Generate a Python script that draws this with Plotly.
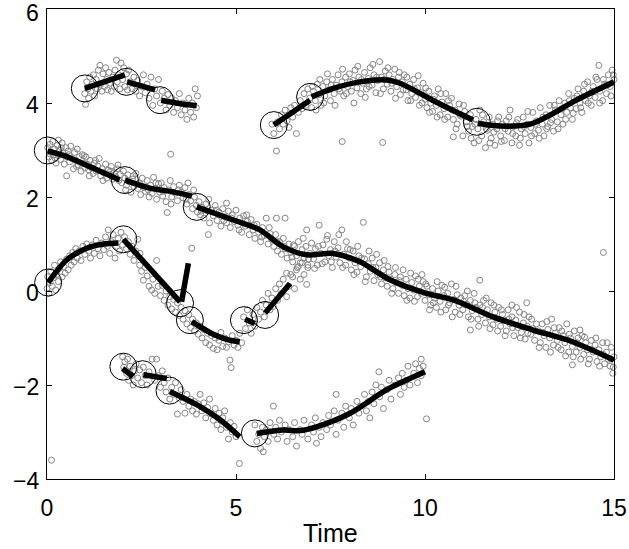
import plotly.graph_objects as go

cluster_a = [(1.0,4.2),(1.02,3.97),(1.05,4.45),(1.08,4.3),(1.1,4.1),(1.13,4.55),(1.16,4.25),(1.2,4.4),(1.23,4.6),(1.26,4.15),(1.3,4.5),(1.33,4.3),(1.36,4.7),(1.4,4.8),(1.42,4.4),(1.45,4.25),(1.48,4.62),(1.52,4.35),(1.55,4.75),(1.58,4.5),(1.6,4.28),(1.64,4.65),(1.68,4.42),(1.7,4.25),(1.74,4.55),(1.78,4.35),(1.8,4.7),(1.84,4.91),(1.86,4.45),(1.9,4.6),(1.93,4.3),(1.96,4.85),(2.0,4.5),(2.03,4.75),(2.06,4.35),(2.1,4.62),(2.13,4.28),(2.16,4.7),(2.2,4.45),(2.25,4.3),(2.3,4.55),(2.35,4.25),(2.4,4.48),(2.45,4.15),(2.5,4.35),(2.55,4.6),(2.6,4.22),(2.65,4.4),(2.7,4.1),(2.75,4.55),(2.8,3.95),(2.85,4.3),(2.9,4.15),(2.95,4.5),(3.0,4.0),(3.05,4.25),(3.1,4.1),(3.15,3.85),(3.2,4.18),(3.25,3.95),(3.27,2.91),(3.3,4.1),(3.35,3.8),(3.4,4.05),(3.45,3.9),(3.5,4.2),(3.55,3.75),(3.6,4.0),(3.65,3.85),(3.7,3.65),(3.75,4.1),(3.8,3.8),(3.85,4.0),(3.88,3.7),(3.92,4.3),(3.95,3.9),(3.98,4.15)]

cluster_b = [(5.95,3.55),(6.0,3.35),(6.07,2.98),(6.1,3.6),(6.15,3.45),(6.2,3.75),(6.25,3.55),(6.3,3.85),(6.35,3.62),(6.4,3.48),(6.45,3.9),(6.5,3.7),(6.55,3.95),(6.6,3.35),(6.65,3.8),(6.7,4.05),(6.75,3.88),(6.8,4.2),(6.85,3.95),(6.9,4.3),(6.95,4.1),(7.0,3.9),(7.05,4.25),(7.1,4.05),(7.15,4.4),(7.2,4.18),(7.25,3.95),(7.3,4.35),(7.35,4.15),(7.4,4.45),(7.45,4.28),(7.5,4.05),(7.55,4.5),(7.6,4.2),(7.65,4.38),(7.7,4.6),(7.75,4.25),(7.8,4.45),(7.81,3.18),(7.85,4.15),(7.9,4.55),(7.95,4.35),(8.0,4.62),(8.05,4.25),(8.1,4.48),(8.15,4.7),(8.2,4.32),(8.25,4.55),(8.3,4.2),(8.35,4.42),(8.4,4.65),(8.45,4.3),(8.5,4.52),(8.55,4.75),(8.6,4.38),(8.65,4.6),(8.7,4.22),(8.75,4.48),(8.8,4.88),(8.85,4.55),(8.88,3.16),(8.9,4.3),(8.95,4.68),(9.0,4.4),(9.05,4.6),(9.1,4.25),(9.15,4.5),(9.2,4.72),(9.25,4.35),(9.3,4.55),(9.35,4.18),(9.4,4.45),(9.45,4.6),(9.5,4.28),(9.55,4.05),(9.6,4.4),(9.65,4.2),(9.7,4.5),(9.75,4.12),(9.8,4.32),(9.85,3.95),(9.9,4.22),(9.95,4.42),(10.0,4.08),(10.05,3.9),(10.1,4.25),(10.15,4.0),(10.2,3.82),(10.25,4.15),(10.3,3.95),(10.35,4.3),(10.4,3.75),(10.45,4.02),(10.5,3.88),(10.55,4.2),(10.6,3.7),(10.65,3.95),(10.7,4.1),(10.75,3.65),(10.75,3.28),(10.8,3.85),(10.85,3.55),(10.9,3.98),(10.95,3.72),(11.0,3.3),(11.05,3.82),(11.1,3.6),(11.15,3.4),(11.2,3.75),(11.25,3.5),(11.3,3.15),(11.35,3.65),(11.4,3.45),(11.45,3.85),(11.5,3.3),(11.55,3.6),(11.6,3.05),(11.65,3.42),(11.7,3.7),(11.75,3.25),(11.8,3.55),(11.85,3.1),(11.9,3.45),(11.95,3.7),(12.0,3.3),(12.05,3.55),(12.1,3.2),(12.15,3.62),(12.2,3.4),(12.25,3.85),(12.3,3.15),(12.35,3.5),(12.4,3.3),(12.45,3.65),(12.5,3.1),(12.55,3.45),(12.6,3.7),(12.65,3.35),(12.7,3.55),(12.75,3.15),(12.8,3.48),(12.85,3.8),(12.9,3.35),(12.95,3.62),(13.0,3.42),(13.05,3.9),(13.1,3.55),(13.15,3.3),(13.2,3.75),(13.25,3.5),(13.3,3.95),(13.35,3.65),(13.4,3.4),(13.45,3.85),(13.5,3.6),(13.55,4.05),(13.6,3.75),(13.65,3.55),(13.7,4.0),(13.75,3.8),(13.8,4.2),(13.85,3.9),(13.9,3.65),(13.95,4.1),(14.0,3.88),(14.05,4.3),(14.1,4.0),(14.15,3.8),(14.2,4.25),(14.25,4.05),(14.3,4.45),(14.35,4.15),(14.4,3.95),(14.45,4.35),(14.5,4.12),(14.55,4.5),(14.6,4.8),(14.62,4.25),(14.7,4.05),(14.75,4.4),(14.8,4.2),(14.85,4.6),(14.9,4.35),(14.95,4.7),(15.0,4.5)]

cluster_b_more = [(7.02,4.35),(7.12,3.85),(7.22,4.5),(7.32,4.0),(7.42,4.62),(7.52,4.38),(7.62,3.95),(7.72,4.3),(7.82,4.72),(7.92,4.2),(8.02,4.45),(8.12,4.0),(8.22,4.78),(8.32,4.5),(8.42,4.12),(8.52,4.35),(8.62,4.82),(8.72,4.55),(8.82,4.2),(8.92,4.5),(9.02,4.75),(9.12,4.42),(9.22,4.1),(9.32,4.65),(9.42,4.28),(9.52,4.55),(9.62,4.05),(9.72,4.3),(9.82,4.58),(9.92,4.0),(10.02,4.32),(10.12,3.8),(10.22,4.08),(10.32,3.7),(10.42,4.2),(10.52,3.65),(10.62,4.05),(10.72,3.85),(10.82,3.45),(10.92,3.75),(11.02,3.95),(11.12,3.5),(11.22,3.25),(11.32,3.55),(11.42,3.2),(11.52,3.75),(11.62,3.45),(11.72,3.15),(11.82,3.38),(11.92,3.62),(12.02,3.18),(12.12,3.45),(12.22,3.7),(12.32,3.35),(12.42,3.58),(12.52,3.25),(12.62,3.5),(12.72,3.82),(12.82,3.3),(12.92,3.55),(13.02,3.25),(13.12,3.7),(13.22,3.45),(13.32,3.58),(13.42,3.95),(13.52,3.45),(13.62,3.88),(13.72,3.65),(13.82,4.05),(13.92,3.78),(14.02,4.15),(14.12,3.9),(14.22,4.4),(14.32,4.0),(14.42,4.25),(14.52,4.55),(14.62,4.0),(14.72,4.5),(14.82,4.38),(14.92,4.15),(14.98,4.6)]

cluster_c = [(0.02,3.05),(0.05,2.85),(0.08,3.12),(0.1,2.95),(0.13,2.78),(0.15,3.18),(0.18,2.9),(0.2,3.02),(0.24,2.72),(0.27,3.1),(0.3,3.21),(0.3,2.88),(0.33,3.0),(0.36,2.8),(0.4,3.15),(0.43,2.93),(0.46,2.7),(0.5,3.05),(0.52,2.45),(0.53,2.85),(0.56,2.98),(0.6,2.75),(0.63,3.08),(0.66,2.82),(0.7,2.6),(0.73,2.95),(0.76,2.78),(0.8,3.02),(0.83,2.68),(0.86,2.86),(0.9,2.55),(0.93,2.9),(0.96,2.72),(1.0,2.62),(1.03,2.85),(1.07,2.7),(1.1,2.58),(1.14,2.78),(1.18,2.62),(1.22,2.5),(1.25,2.72),(1.3,2.55),(1.34,2.66),(1.38,2.82),(1.42,2.45),(1.46,2.6),(1.5,2.52),(1.55,2.7),(1.58,2.4),(1.62,2.57),(1.66,2.48),(1.7,2.65),(1.74,2.38),(1.78,2.52),(1.82,2.43),(1.86,2.6),(1.9,2.35),(1.94,2.48),(1.98,2.3),(2.02,2.55),(2.06,2.4),(2.1,2.25),(2.14,2.47),(2.18,2.32),(2.22,2.1),(2.26,2.38),(2.3,2.22),(2.35,2.5),(2.4,2.18),(2.44,2.3),(2.48,2.05),(2.52,2.4),(2.56,2.2),(2.6,2.12),(2.65,2.35),(2.7,2.0),(2.74,2.25),(2.78,2.08),(2.82,2.42),(2.86,2.18),(2.9,1.95),(2.95,2.28),(2.98,2.1),(3.02,2.3),(3.06,2.02),(3.1,2.2),(3.15,1.9),(3.18,1.67),(3.22,2.15),(3.26,2.35),(3.3,2.0),(3.35,2.22),(3.4,2.08),(3.45,1.92),(3.5,2.25),(3.55,2.1),(3.6,1.98),(3.65,2.2),(3.7,1.85),(3.73,2.3),(3.75,2.05),(3.8,1.92),(3.85,1.75),(3.9,2.0),(3.95,1.82),(3.98,1.68),(4.02,1.9),(4.06,1.62),(4.1,1.78),(4.15,1.55),(4.2,1.85),(4.25,1.7),(4.27,1.2),(4.3,1.45),(4.35,1.72),(4.4,1.6),(4.45,1.82),(4.5,1.5),(4.55,1.68),(4.6,1.38),(4.65,1.75),(4.7,1.58),(4.75,1.87),(4.75,1.45),(4.8,1.7),(4.85,1.35),(4.9,1.62),(4.95,1.48),(5.0,1.72),(5.05,1.4),(5.1,1.55),(5.15,1.25),(5.2,1.6),(5.25,1.38),(5.3,1.48),(5.35,1.2),(5.4,1.52),(5.45,1.3),(5.5,1.12),(5.55,1.42),(5.6,1.25),(5.65,1.05),(5.7,1.35),(5.75,1.18),(5.8,1.55),(5.85,1.0),(5.9,1.22),(5.95,1.1),(6.0,0.95),(6.05,1.2),(6.07,1.55),(6.1,0.85),(6.15,1.05),(6.2,0.78),(6.25,1.12),(6.3,1.55),(6.3,0.9),(6.35,0.7),(6.4,1.0),(6.45,0.82),(6.5,0.62),(6.55,0.95),(6.6,0.75),(6.65,1.05),(6.7,0.6),(6.75,0.88),(6.8,0.7),(6.85,0.95),(6.87,1.3),(6.9,0.55),(6.95,0.8),(7.0,1.02),(7.05,0.68),(7.1,0.9),(7.15,0.55),(7.2,1.4),(7.25,0.8),(7.3,0.98),(7.35,0.62),(7.4,1.1),(7.45,0.75),(7.5,0.88),(7.55,0.5),(7.6,1.05),(7.65,0.72),(7.7,0.92),(7.75,0.6),(7.8,1.3),(7.85,0.78),(7.9,0.55),(7.95,0.9),(8.0,0.7),(8.05,0.45),(8.1,0.85),(8.15,0.6),(8.2,0.4),(8.25,0.75),(8.3,0.52),(8.37,1.46),(8.4,0.68),(8.45,0.3),(8.5,0.58),(8.55,0.42),(8.6,0.7),(8.65,0.22),(8.7,0.5),(8.75,0.35),(8.8,0.6),(8.85,0.15),(8.9,0.45),(8.95,0.28),(9.0,0.1),(9.05,0.4),(9.1,0.25),(9.15,0.05),(9.2,0.35),(9.25,0.18),(9.3,-0.05),(9.35,0.3),(9.4,0.12),(9.45,-0.1),(9.5,0.25),(9.55,0.05),(9.6,-0.15),(9.65,0.18),(9.7,0.02),(9.75,0.32),(9.8,-0.12),(9.85,0.1),(9.9,-0.05),(9.95,0.2),(10.0,-0.2),(10.05,0.1),(10.1,-0.08),(10.15,-0.3),(10.2,0.05),(10.25,-0.15),(10.3,-0.35),(10.35,0.0),(10.4,-0.22),(10.45,0.12),(10.5,-0.1),(10.55,-0.4),(10.6,-0.05),(10.65,-0.25),(10.7,0.15),(10.75,-0.18),(10.8,-0.45),(10.85,-0.08),(10.9,-0.3),(10.95,-0.15),(11.0,-0.4),(11.05,-0.1),(11.1,-0.28),(11.15,-0.55),(11.2,-0.83),(11.2,-0.2),(11.25,-0.42),(11.3,-0.05),(11.35,-0.35),(11.4,-0.6),(11.45,0.23),(11.45,-0.3),(11.5,-0.5),(11.55,-0.2),(11.6,-0.68),(11.65,-0.4),(11.7,-0.55),(11.75,-0.25),(11.8,-0.72),(11.85,-0.45),(11.9,-0.6),(11.95,-0.35),(12.0,-0.75),(12.05,-0.5),(12.1,-0.62),(12.15,-0.85),(12.2,-0.4),(12.25,-0.7),(12.3,-0.3),(12.3,-0.55),(12.35,-0.95),(12.4,-0.62),(12.45,-0.78),(12.5,-0.45),(12.55,-0.88),(12.6,-0.68),(12.65,-1.02),(12.69,-0.25),(12.7,-0.75),(12.75,-0.55),(12.8,-0.92),(12.85,-0.8),(12.9,-1.05),(12.95,-0.7),(13.0,-0.85),(13.05,-1.1),(13.1,-0.7),(13.15,-0.95),(13.2,-1.2),(13.25,-0.82),(13.3,-1.0),(13.35,-0.6),(13.4,-1.15),(13.45,-0.9),(13.5,-1.05),(13.55,-0.78),(13.6,-1.25),(13.65,-0.95),(13.7,-1.1),(13.75,-0.7),(13.8,-1.3),(13.85,-1.0),(13.9,-1.57),(13.9,-1.18),(13.95,-0.85),(14.0,-1.3),(14.05,-1.0),(14.1,-0.83),(14.1,-1.2),(14.15,-0.95),(14.2,-1.35),(14.25,-1.1),(14.3,-1.25),(14.35,-1.45),(14.4,-1.05),(14.45,-1.3),(14.5,-1.15),(14.55,-1.5),(14.6,-1.25),(14.65,-1.4),(14.7,-1.1),(14.72,0.82),(14.75,-1.55),(14.8,-1.3),(14.85,-1.45),(14.9,-1.6),(14.93,-1.2),(14.97,-1.75),(15.0,-1.4)]

cluster_c_more = [(0.07,2.92),(0.22,2.82),(0.38,3.05),(0.58,2.9),(0.78,2.65),(0.98,2.88),(1.12,2.45),(1.28,2.78),(1.48,2.35),(1.68,2.55),(1.88,2.68),(2.08,2.15),(2.28,2.45),(2.46,2.28),(2.68,2.15),(2.88,2.3),(3.08,2.12),(3.28,1.85),(3.48,2.15),(3.68,1.95),(3.88,2.15),(4.08,1.7),(4.28,1.95),(4.48,1.72),(4.68,1.5),(4.88,1.55),(5.08,1.3),(5.28,1.62),(5.48,1.4),(5.68,1.15),(5.88,1.35),(6.08,1.05),(6.28,0.95),(6.48,0.72),(6.52,0.98),(6.62,0.5),(6.78,1.12),(6.92,0.68),(7.08,0.48),(7.18,0.95),(7.28,0.58),(7.42,1.18),(7.52,0.62),(7.62,0.85),(7.72,1.2),(7.82,0.5),(7.92,1.05),(8.02,0.88),(8.12,0.35),(8.22,0.95),(8.32,0.7),(8.42,0.2),(8.52,0.85),(8.62,0.5),(8.72,0.78),(8.82,0.3),(8.92,0.65),(9.02,0.52),(9.12,-0.05),(9.22,0.5),(9.32,0.22),(9.42,0.45),(9.52,-0.2),(9.62,0.38),(9.72,-0.22),(9.82,0.25),(9.92,0.35),(10.02,0.15),(10.12,-0.4),(10.22,-0.25),(10.32,0.2),(10.42,-0.45),(10.52,0.08),(10.62,-0.3),(10.72,-0.55),(10.82,0.1),(10.92,-0.5),(11.02,-0.22),(11.12,0.0),(11.22,-0.6),(11.32,-0.25),(11.42,-0.75),(11.52,-0.35),(11.62,-0.15),(11.72,-0.8),(11.82,-0.3),(11.92,-0.85),(12.02,-0.4),(12.12,-0.95),(12.22,-0.6),(12.32,-0.78),(12.42,-0.35),(12.52,-1.0),(12.62,-0.5),(12.72,-0.9),(12.82,-0.6),(12.92,-0.85),(13.02,-1.2),(13.12,-0.88),(13.22,-0.65),(13.32,-1.3),(13.42,-0.78),(13.52,-1.2),(13.62,-0.85),(13.72,-1.38),(13.82,-0.92),(13.92,-1.4),(14.02,-1.1),(14.12,-1.45),(14.22,-0.98),(14.32,-1.55),(14.42,-1.25),(14.52,-1.0),(14.62,-1.6),(14.72,-1.35),(14.82,-1.1),(14.92,-1.45),(14.98,-1.62)]

cluster_d = [(0.0,0.05),(0.02,0.3),(0.05,-0.05),(0.08,0.18),(0.1,0.42),(0.12,-3.6),(0.14,0.1),(0.17,0.28),(0.2,0.55),(0.23,0.02),(0.26,0.35),(0.3,0.2),(0.33,0.48),(0.36,0.62),(0.4,0.3),(0.44,0.52),(0.48,0.38),(0.52,0.68),(0.56,0.45),(0.6,0.75),(0.64,0.55),(0.68,0.82),(0.72,0.62),(0.76,0.9),(0.8,0.7),(0.85,0.85),(0.9,0.65),(0.95,0.95),(1.0,0.78),(1.05,1.0),(1.1,0.85),(1.15,0.7),(1.2,0.98),(1.25,0.8),(1.3,1.08),(1.35,0.9),(1.4,0.75),(1.45,1.02),(1.5,0.88),(1.55,1.15),(1.6,0.95),(1.62,1.3),(1.66,0.8),(1.7,1.05),(1.75,1.2),(1.8,0.7),(1.84,0.95),(1.88,1.12),(1.92,0.85),(1.96,1.25),(2.0,0.98),(2.05,1.15),(2.1,0.9),(2.15,1.05),(2.2,0.78),(2.25,0.95),(2.3,0.65),(2.35,0.85),(2.4,1.1),(2.45,0.55),(2.46,0.8),(2.5,0.42),(2.55,0.23),(2.6,0.5),(2.65,0.32),(2.7,0.1),(2.77,0.02),(2.8,0.25),(2.85,-0.05),(2.9,0.65),(2.94,0.1),(3.0,-0.1),(3.05,0.12),(3.1,-0.2),(3.15,0.0),(3.2,-0.3),(3.25,-0.12),(3.3,-0.38),(3.35,-0.18),(3.4,-0.45),(3.45,-0.25),(3.5,-0.52),(3.55,-0.35),(3.6,-0.6),(3.65,-0.42),(3.7,-0.7),(3.75,-0.5),(3.8,-0.78),(3.83,0.91),(3.85,-0.6),(3.9,-0.85),(3.95,-0.68),(4.0,-0.92),(4.05,-0.75),(4.1,-1.0),(4.15,-0.82),(4.2,-1.1),(4.25,-0.9),(4.3,-1.15),(4.35,-0.95),(4.4,-1.22),(4.45,-1.0),(4.5,-1.25),(4.55,-1.05),(4.6,-0.88),(4.65,-1.18),(4.7,-1.0),(4.75,-1.2),(4.8,-1.08),(4.84,-1.47),(4.87,-1.63),(4.9,-0.95),(4.95,-1.15),(5.0,-1.05),(5.05,-1.2),(5.1,-0.9),(5.15,-1.1),(5.2,-0.55),(5.25,-0.8),(5.3,-0.4),(5.35,-0.68),(5.4,-0.9),(5.45,-0.5),(5.5,-0.75),(5.55,-0.35),(5.6,-0.6),(5.65,-0.45),(5.7,-0.2),(5.75,-0.55),(5.8,-0.3),(5.85,-0.05),(5.9,-0.4),(5.95,-0.15),(5.99,-0.33),(6.05,0.05),(6.1,-0.2),(6.15,0.15),(6.2,-0.05),(6.25,0.25),(6.34,-0.12),(6.34,0.38),(6.4,0.1),(6.45,0.35),(6.5,0.3),(6.55,0.05),(6.6,0.45),(6.65,0.52),(6.7,0.25),(6.75,0.6),(6.8,0.35),(6.87,0.14),(6.9,0.5)]

cluster_e = [(2.0,-1.4),(2.03,-1.62),(2.06,-1.5),(2.1,-1.75),(2.13,-1.45),(2.16,-1.9),(2.2,-1.6),(2.24,-1.8),(2.28,-2.0),(2.32,-1.7),(2.36,-1.55),(2.4,-1.85),(2.45,-1.68),(2.5,-1.95),(2.55,-1.62),(2.6,-1.8),(2.65,-2.0),(2.7,-1.72),(2.78,-1.45),(2.85,-1.9),(2.9,-1.45),(2.95,-1.8),(3.0,-2.05),(3.05,-1.7),(3.1,-1.95),(3.15,-2.15),(3.2,-1.85),(3.25,-2.3),(3.3,-2.05),(3.35,-2.2),(3.4,-1.95),(3.45,-2.62),(3.5,-2.28),(3.55,-2.1),(3.6,-2.35),(3.65,-2.6),(3.7,-2.2),(3.75,-2.45),(3.8,-2.3),(3.85,-2.55),(3.9,-2.35),(3.95,-2.62),(4.0,-2.4),(4.05,-2.2),(4.1,-2.55),(4.15,-2.38),(4.2,-2.7),(4.25,-2.48),(4.3,-2.3),(4.35,-2.62),(4.4,-2.75),(4.45,-2.5),(4.5,-2.85),(4.55,-2.6),(4.6,-2.95),(4.65,-2.7),(4.7,-2.55),(4.75,-2.9),(4.8,-3.15),(4.85,-2.8),(4.9,-3.0),(4.95,-2.88),(5.0,-3.1),(5.09,-3.67),(5.5,-2.85),(5.55,-3.2),(5.6,-3.05),(5.65,-3.35),(5.7,-2.9),(5.72,-3.42),(5.75,-3.1),(5.8,-2.95),(5.85,-3.2),(5.9,-2.8),(5.99,-2.45),(6.0,-3.05),(6.05,-2.9),(6.1,-3.15),(6.15,-2.75),(6.2,-3.0),(6.3,-2.85),(6.35,-3.2),(6.4,-2.95),(6.5,-3.1),(6.55,-2.8),(6.6,-3.3),(6.7,-2.95),(6.75,-3.05),(6.8,-2.75),(6.9,-3.15),(7.0,-2.85),(7.05,-3.0),(7.1,-2.7),(7.13,-3.24),(7.2,-2.9),(7.25,-3.1),(7.3,-2.8),(7.4,-2.95),(7.45,-2.65),(7.5,-2.85),(7.6,-2.55),(7.65,-2.2),(7.65,-3.05),(7.7,-2.75),(7.8,-2.6),(7.85,-2.9),(7.9,-2.45),(8.0,-2.7),(8.05,-2.5),(8.1,-2.85),(8.2,-2.35),(8.25,-2.6),(8.3,-2.45),(8.4,-2.2),(8.45,-2.55),(8.5,-2.35),(8.54,-2.7),(8.6,-2.15),(8.65,-2.4),(8.7,-2.0),(8.78,-1.72),(8.8,-2.25),(8.85,-2.05),(8.9,-2.5),(9.0,-2.1),(9.05,-1.9),(9.1,-2.3),(9.2,-2.0),(9.3,-1.85),(9.35,-2.2),(9.4,-1.75),(9.45,-2.05),(9.5,-1.9),(9.55,-1.6),(9.6,-2.0),(9.7,-1.75),(9.75,-1.55),(9.8,-1.95),(9.85,-1.65),(9.9,-1.45),(9.9,-1.8),(9.95,-1.6),(10.04,-2.72)]

# ---- estimated tracks (thick black segments) ----
track_x = [
    [1.0, 2.06], [2.12, 2.86], [3.02, 3.5, 3.96],
    [6.0, 6.96], [7.0, 7.57, 8.28, 8.99, 9.34, 10.2, 10.8, 11.27],
    [11.4, 11.98, 12.78, 13.3, 14.0, 15.0],
    [0.02, 0.52, 1.2, 1.92], [2.06, 2.72, 3.34, 3.83],
    [3.96, 4.93, 5.63, 6.25, 6.87, 7.57, 8.28, 8.64, 9.07, 10.04, 10.75, 11.8, 12.86, 13.9, 15.0],
    [0.03, 0.52, 1.05, 1.5, 1.89], [2.02, 3.52], [3.56, 3.74],
    [3.83, 4.4, 4.8, 5.1], [5.24, 5.5], [5.77, 6.43],
    [2.0, 2.28], [2.55, 3.17], [3.25, 4.05, 4.58, 5.1],
    [5.55, 6.25, 6.69, 7.13, 8.02, 8.99, 10.0],
]
track_y = [
    [4.31, 4.6], [4.45, 4.28], [4.06, 3.99, 3.94],
    [3.53, 4.06], [4.13, 4.31, 4.45, 4.49, 4.42, 4.06, 3.82, 3.64],
    [3.57, 3.51, 3.55, 3.74, 4.06, 4.45],
    [2.98, 2.86, 2.62, 2.36], [2.36, 2.19, 2.11, 2.02],
    [1.79, 1.51, 1.30, 0.94, 0.77, 0.8, 0.62, 0.45, 0.24, -0.05, -0.19, -0.55, -0.83, -1.08, -1.47],
    [0.18, 0.66, 0.91, 1.0, 1.02], [1.1, -0.23], [-0.23, 0.59],
    [-0.65, -0.92, -1.04, -1.08], [-0.6, -0.69], [-0.47, 0.16],
    [-1.65, -1.82], [-1.78, -1.86], [-2.14, -2.46, -2.74, -3.1],
    [-3.03, -2.96, -2.97, -2.89, -2.6, -2.1, -1.72],
]

# ---- track start markers (large circles) ----
start_x = [0.02, 1.0, 2.1, 2.99, 2.06, 3.96, 0.03, 2.02, 3.52, 3.78, 5.21, 5.77, 2.02, 2.53, 3.24, 5.5, 6.0, 6.96, 11.37]
start_y = [2.99, 4.31, 4.45, 4.06, 2.36, 1.79, 0.18, 1.1, -0.26, -0.62, -0.62, -0.51, -1.61, -1.77, -2.12, -3.03, 3.53, 4.13, 3.6]

x_ticks = [0, 5, 10, 15]
y_ticks = [-4, -2, 0, 2, 4, 6]
y_tick_labels = ["\u22124", "\u22122", "0", "2", "4", "6"]
x_title = "Time"

FONT = "Liberation Sans, Arial, sans-serif"

fig = go.Figure()

all_pts = cluster_a + cluster_b + cluster_b_more + cluster_c + cluster_c_more + cluster_d + cluster_e
fig.add_trace(go.Scatter(
    x=[p[0] for p in all_pts], y=[p[1] for p in all_pts],
    mode="markers",
    marker=dict(symbol="circle-open", size=6, color="#858585", line=dict(width=1)),
    hoverinfo="skip", showlegend=False, cliponaxis=False))

for tx, ty in zip(track_x, track_y):
    fig.add_trace(go.Scatter(
        x=tx, y=ty, mode="lines",
        line=dict(color="black", width=5.5, shape="spline", smoothing=0.8),
        showlegend=False, hoverinfo="skip"))

fig.add_trace(go.Scatter(
    x=start_x, y=start_y, mode="markers",
    marker=dict(symbol="circle-open", size=27, color="black", line=dict(width=1)),
    showlegend=False, hoverinfo="skip", cliponaxis=False))

axis_common = dict(
    showline=True, linecolor="black", linewidth=1, mirror="ticks",
    ticks="inside", ticklen=5, tickcolor="black", tickwidth=1,
    showgrid=False, zeroline=False, automargin=False,
    ticklabeloverflow="allow",
    tickfont=dict(family=FONT, size=23, color="black"),
)

annotations = [dict(text=x_title, x=7.5, xref="x", y=-0.1149, yref="paper",
                    xanchor="center", yanchor="middle", showarrow=False,
                    font=dict(family=FONT, size=25, color="black"))]
for v, lab in zip(y_ticks, y_tick_labels):
    annotations.append(dict(text=lab, x=0, xref="paper", y=v, yref="y",
                            xanchor="right", yanchor="middle", xshift=-7,
                            yshift=-4 if v == max(y_ticks) else -2,
                            borderpad=0, showarrow=False,
                            font=dict(family=FONT, size=23, color="black")))

fig.update_layout(
    width=629, height=549,
    margin=dict(l=47, r=15, t=9, b=70),
    paper_bgcolor="white", plot_bgcolor="white",
    xaxis=dict(range=[0, 15], tickvals=x_ticks, ticklabelstandoff=8, **axis_common),
    yaxis=dict(range=[-4, 6], tickvals=y_ticks, showticklabels=False, **axis_common),
    annotations=annotations,
)

fig.write_html("out.html", config={"displayModeBar": False},
               post_script="document.body.style.margin='0';document.body.style.overflow='hidden';")
